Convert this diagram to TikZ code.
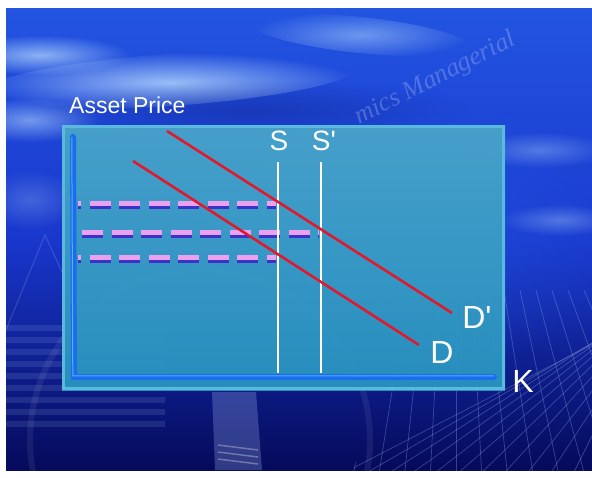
\documentclass[tikz,border=0pt]{standalone}
\usepackage{fontspec}
\setmainfont{Liberation Sans}
\newfontfamily\wmfont{Liberation Serif}
\usetikzlibrary{fadings}
\definecolor{bgtop}{RGB}{35,85,225}
\definecolor{bgmid}{RGB}{25,55,205}
\definecolor{bgbot}{RGB}{5,10,90}
\definecolor{streakc}{RGB}{185,220,255}
\definecolor{panelfill}{RGB}{40,148,192}
\definecolor{panelframe}{RGB}{90,185,220}
\definecolor{axisblue}{RGB}{25,110,235}
\definecolor{axishi}{RGB}{90,175,245}
\definecolor{curvered}{RGB}{225,25,45}
\definecolor{dashpink}{RGB}{235,160,240}
\definecolor{dashshade}{RGB}{60,50,200}
\definecolor{gridc}{RGB}{150,170,230}
\tikzfading[name=soft, inner color=transparent!0, outer color=transparent!100]
\tikzset{
  streak/.style={streakc, path fading=soft},
  axisline/.style={axisblue, line width=6pt, line cap=round},
  demand/.style={curvered, line width=2.6pt},
  supply/.style={white, line width=2.6pt},
  dashtop/.style={dashpink, line width=5pt, dash pattern=on 21pt off 8.5pt},
  dashbot/.style={dashshade, line width=4pt, dash pattern=on 21pt off 8.5pt},
  lbl/.style={white, font=\fontsize{28}{28}\selectfont, inner sep=0pt},
  biglbl/.style={white, font=\fontsize{32}{32}\selectfont, inner sep=0pt},
  gridline/.style={gridc, line width=0.7pt},
}
\begin{document}
\begin{tikzpicture}[x=1pt,y=-1pt]
\useasboundingbox (0,0) rectangle (592,477);
\fill[white] (0,0) rectangle (592,477);
% background
\begin{scope}
\clip (6,8) rectangle (592,470);
\shade[top color=bgtop, bottom color=bgbot, middle color=bgmid] (6,8) rectangle (592,470);
\fill[bgtop, opacity=0.6, path fading=soft] (420,230) ellipse [x radius=260, y radius=140];
% light streaks
\fill[streak, opacity=0.8, rotate around={4:(170,80)}] (170,80) ellipse [x radius=190, y radius=26];
\fill[streak, opacity=0.7] (40,55) ellipse [x radius=90, y radius=20];
\fill[streak, opacity=0.55] (30,120) ellipse [x radius=70, y radius=22];
\fill[streak, opacity=0.5, rotate around={-6:(360,35)}] (360,35) ellipse [x radius=110, y radius=18];
\fill[streak, opacity=0.35] (540,150) ellipse [x radius=70, y radius=18];
\fill[streak, opacity=0.35] (560,220) ellipse [x radius=60, y radius=16];
\fill[streak, opacity=0.25] (30,200) ellipse [x radius=50, y radius=30];
% dark band behind upper panel area
\fill[bgbot, opacity=0.25, path fading=soft] (250,110) ellipse [x radius=220, y radius=30];
% faint big circle and triangle decoration
\draw[white, opacity=0.07, line width=6pt] (200,440) circle [radius=170];
\draw[white, opacity=0.15, line width=1pt] (6,330) -- (45,235) -- (75,300);
% film strip below panel
\fill[gridc, opacity=0.3] (212,392) -- (256,392) -- (262,470) -- (215,470) -- cycle;
\foreach \k in {0,1,2} \draw[white, opacity=0.3, line width=1.5pt] (218,445+\k*7) -- (258,450+\k*7);
% stripes left bottom
\foreach \j in {0,...,8} {
  \fill[streakc, opacity=0.12] (6,325+\j*12) rectangle (165,331+\j*12);
}
% perspective grid bottom right
\begin{scope}
\clip (350,477) -- (420,300) -- (592,260) -- (592,477) -- cycle;
\foreach \i in {0,...,16} {
  \draw[gridline, opacity=0.35] (330+\i*24,480) -- (620,330-\i*4+\i*\i*0.9);
}
\foreach \i in {0,...,18} {
  \draw[gridline, opacity=0.35] (360+\i*16,290) -- (300+\i*26,480);
}
\end{scope}
% watermark text
\node[rotate=27, white, opacity=0.22, font=\wmfont\itshape\fontsize{26}{26}\selectfont, anchor=south west, inner sep=0pt] (wm) at (362,130) {mics Managerial};
\end{scope}
% panel
\shade[top color=panelfill!85!white, bottom color=panelfill, opacity=0.95] (62,125) rectangle (505,390);
\draw[panelframe, line width=2.5pt] (63.5,126.5) rectangle (503.5,388.5);
% title
\node[white, font=\fontsize{23}{23}\selectfont, anchor=west, inner sep=0pt] (title) at (69,105) {Asset Price};
% axes
\coordinate (ytop) at (73,137);
\coordinate (orig) at (74,377);
\coordinate (xend) at (494,377);
\draw[axisline] (ytop) -- (orig) -- (xend);
\draw[axishi, line width=1pt] ([xshift=-1.2pt]ytop) -- ([xshift=-1.2pt,yshift=1.2pt]orig) -- ([yshift=1.2pt]xend);
\node[biglbl] (K) at (523,381) {K};
% dashed price levels
\coordinate (p1a) at (78,203); \coordinate (p1b) at (276,203);
\coordinate (p2a) at (82,232); \coordinate (p2b) at (319,232);
\coordinate (p3a) at (78,257); \coordinate (p3b) at (276,257);
\foreach \a/\b/\ph in {p1a/p1b/18, p2a/p2b/0, p3a/p3b/18} {
  \draw[dashbot, dash phase=\ph pt] ([yshift=-3.5pt]\a) -- ([yshift=-3.5pt]\b);
  \draw[dashtop, dash phase=\ph pt] (\a) -- (\b);
}
% supply lines
\coordinate (s1t) at (278,162); \coordinate (s1b) at (278,373);
\coordinate (s2t) at (321,162); \coordinate (s2b) at (321,373);
\draw[supply] (s1t) -- (s1b);
\draw[supply] (s2t) -- (s2b);
\node[lbl] (S) at (279,141) {S};
\node[lbl] (Sp) at (324,141) {S\textquotesingle};
% demand lines
\coordinate (d2t) at (167,131); \coordinate (d2b) at (452,313);
\coordinate (d1t) at (133,161); \coordinate (d1b) at (419,345);
\draw[demand] (d2t) -- (d2b);
\draw[demand] (d1t) -- (d1b);
\node[biglbl] (Dp) at (477,317) {D\textquotesingle};
\node[biglbl] (D) at (442,352) {D};
\end{tikzpicture}
\end{document}
